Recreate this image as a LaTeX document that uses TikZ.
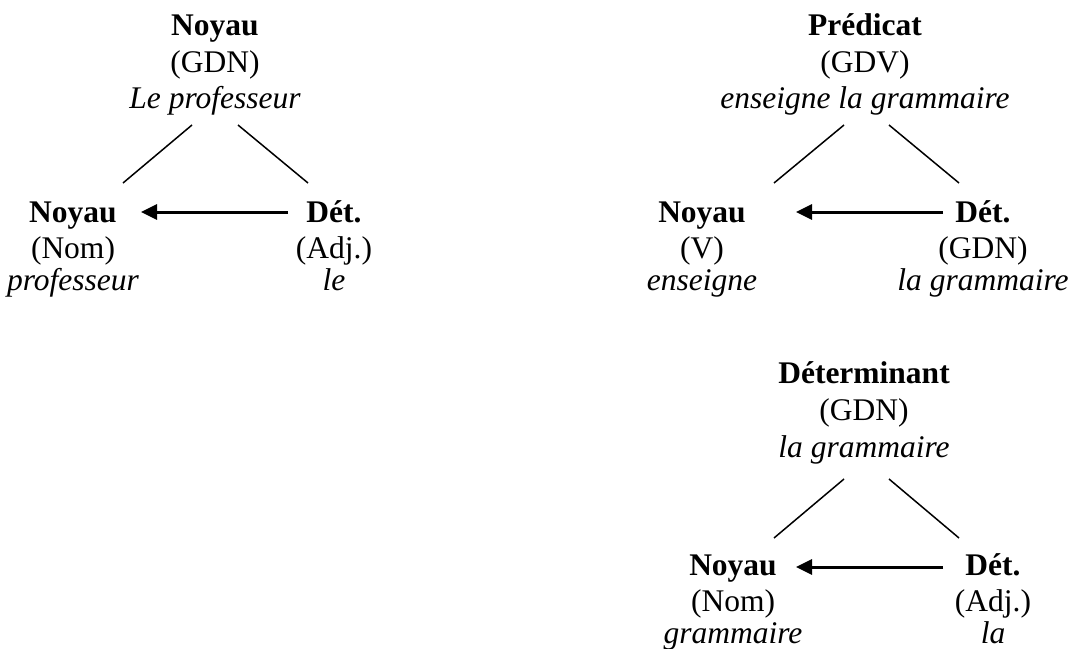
\documentclass[tikz,border=0pt]{standalone}
\usepackage{fontspec}
\setmainfont{Liberation Serif}
\usetikzlibrary{arrows.meta}
\tikzset{
  lbl/.style={anchor=base, inner sep=0pt, font=\fontsize{31.5}{36}\selectfont},
  hd/.style={lbl, font=\fontsize{31.5}{36}\selectfont\bfseries},
  wd/.style={lbl, font=\fontsize{31.5}{36}\selectfont\itshape},
  branch/.style={line width=1.5pt},
  headarrow/.style={line width=3pt, -{Triangle[length=16pt,width=15pt]}}
}
\begin{document}
\begin{tikzpicture}[x=1pt,y=-1pt]
\useasboundingbox (0,0) rectangle (1073,648);
% ---------- Tree 1 ----------
\node[hd] (h1) at (215,35) {Noyau};
\node[lbl] (c1) at (215,72) {(GDN)};
\node[wd] (w1) at (215,108) {Le professeur};
\node[hd] (ln1) at (73,222) {Noyau};
\node[lbl] (lc1) at (73,258) {(Nom)};
\node[wd] (lw1) at (73,290) {professeur};
\node[hd] (rn1) at (334,222) {Dét.};
\node[lbl] (rc1) at (334,258) {(Adj.)};
\node[wd] (rw1) at (334,290) {le};
\coordinate (t1l) at (192,125); \coordinate (b1l) at (123,183);
\coordinate (t1r) at (238,125); \coordinate (b1r) at (308,183);
\coordinate (a1s) at (288,212); \coordinate (a1e) at (141,212);
\draw[branch] (t1l) -- (b1l);
\draw[branch] (t1r) -- (b1r);
\draw[headarrow] (a1s) -- (a1e);
% ---------- Tree 2 ----------
\node[hd] (h2) at (865,35) {Prédicat};
\node[lbl] (c2) at (865,72) {(GDV)};
\node[wd] (w2) at (865,108) {enseigne la grammaire};
\node[hd] (ln2) at (702,222) {Noyau};
\node[lbl] (lc2) at (702,258) {(V)};
\node[wd] (lw2) at (702,290) {enseigne};
\node[hd] (rn2) at (983,222) {Dét.};
\node[lbl] (rc2) at (983,258) {(GDN)};
\node[wd] (rw2) at (983,290) {la grammaire};
\coordinate (t2l) at (844,125); \coordinate (b2l) at (774,183);
\coordinate (t2r) at (889,125); \coordinate (b2r) at (959,183);
\coordinate (a2s) at (943,212); \coordinate (a2e) at (796,212);
\draw[branch] (t2l) -- (b2l);
\draw[branch] (t2r) -- (b2r);
\draw[headarrow] (a2s) -- (a2e);
% ---------- Tree 3 ----------
\node[hd] (h3) at (864,383) {Déterminant};
\node[lbl] (c3) at (864,420) {(GDN)};
\node[wd] (w3) at (864,457) {la grammaire};
\node[hd] (ln3) at (733,575) {Noyau};
\node[lbl] (lc3) at (733,611) {(Nom)};
\node[wd] (lw3) at (733,643) {grammaire};
\node[hd] (rn3) at (993,575) {Dét.};
\node[lbl] (rc3) at (993,611) {(Adj.)};
\node[wd] (rw3) at (993,643) {la};
\coordinate (t3l) at (844,479); \coordinate (b3l) at (774,538);
\coordinate (t3r) at (889,479); \coordinate (b3r) at (959,538);
\coordinate (a3s) at (943,567); \coordinate (a3e) at (796,567);
\draw[branch] (t3l) -- (b3l);
\draw[branch] (t3r) -- (b3r);
\draw[headarrow] (a3s) -- (a3e);
\end{tikzpicture}
\end{document}
